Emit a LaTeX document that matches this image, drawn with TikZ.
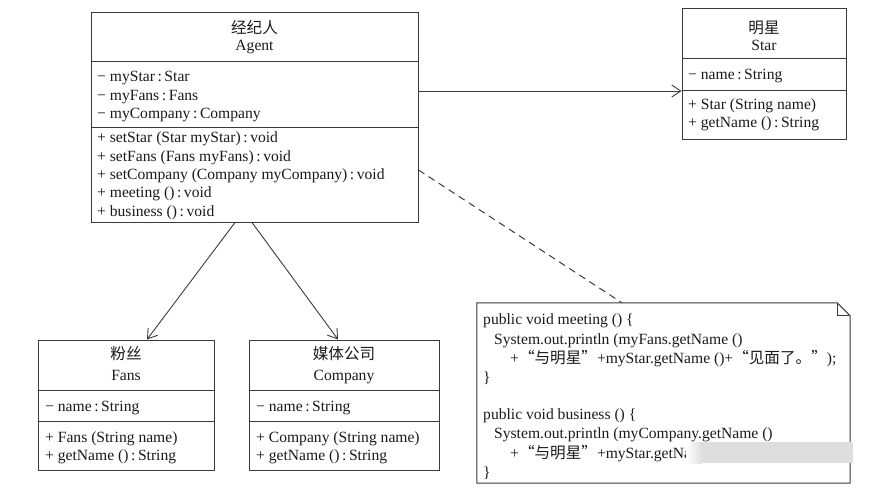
\documentclass[tikz,border=0pt]{standalone}
\usepackage{fontspec}
\setmainfont{Liberation Serif}
\newfontfamily\cjk{Noto Sans CJK SC}
\usetikzlibrary{arrows.meta,calc}
\definecolor{ln}{HTML}{3A3A3A}
\definecolor{tx}{HTML}{1A1A1A}
\tikzset{
  umlbox/.style={draw=ln, line width=1pt, inner sep=0pt, rectangle},
  dl/.style={draw=ln, line width=1pt},
  t/.style={inner sep=0pt, anchor=base west, text=tx, font=\fontsize{15.6}{18}\selectfont},
  tc/.style={t, anchor=base},
  assoc/.style={draw=ln, line width=0.9pt, -{Straight Barb[length=9pt,width=12pt,line width=0.9pt]}},
}
\begin{document}
\begin{tikzpicture}[x=1pt,y=-1pt]
\useasboundingbox (0,0) rectangle (879,488);
% ---------- Agent ----------
\node[umlbox, minimum width=327pt, minimum height=210pt] (agent) at (254.5,117) {};
\draw[dl] (agent.west |- 0,61) -- (agent.east |- 0,61);
\draw[dl] (agent.west |- 0,127) -- (agent.east |- 0,127);
\node[tc] (agcn) at (254.5,33) {\cjk 经纪人};
\node[tc] (agen) at (254.5,50) {Agent};
\node[t] (aga1) at (97,81) {− myStar\,:\,Star};
\node[t] (aga2) at (97,100) {− myFans\,:\,Fans};
\node[t] (aga3) at (97,118) {− myCompany\,:\,Company};
\node[t] (agm1) at (97,142) {+ setStar (Star myStar)\,:\,void};
\node[t] (agm2) at (97,161) {+ setFans (Fans myFans)\,:\,void};
\node[t] (agm3) at (97,179) {+ setCompany (Company myCompany)\,:\,void};
\node[t] (agm4) at (97,197) {+ meeting ()\,:\,void};
\node[t] (agm5) at (97,216) {+ business ()\,:\,void};
% ---------- Star ----------
\node[umlbox, minimum width=164pt, minimum height=131pt] (star) at (764,73.5) {};
\draw[dl] (star.west |- 0,58) -- (star.east |- 0,58);
\draw[dl] (star.west |- 0,90) -- (star.east |- 0,90);
\node[tc] (stcn) at (764,33) {\cjk 明星};
\node[tc] (sten) at (764,50) {Star};
\node[t] (sta1) at (688,79) {− name\,:\,String};
\node[t] (stm1) at (688,109) {+ Star (String name)};
\node[t] (stm2) at (688,127) {+ getName ()\,:\,String};
% ---------- Fans ----------
\node[umlbox, minimum width=176pt, minimum height=130pt] (fans) at (126,405) {};
\draw[dl] (fans.west |- 0,390) -- (fans.east |- 0,390);
\draw[dl] (fans.west |- 0,421) -- (fans.east |- 0,421);
\node[tc] (facn) at (126,359) {\cjk 粉丝};
\node[tc] (faen) at (126,380) {Fans};
\node[t] (faa1) at (45,411) {− name\,:\,String};
\node[t] (fam1) at (45,442) {+ Fans (String name)};
\node[t] (fam2) at (45,460) {+ getName ()\,:\,String};
% ---------- Company ----------
\node[umlbox, minimum width=190pt, minimum height=130pt] (company) at (344,405) {};
\draw[dl] (company.west |- 0,390) -- (company.east |- 0,390);
\draw[dl] (company.west |- 0,421) -- (company.east |- 0,421);
\node[tc] (cocn) at (344,359) {\cjk 媒体公司};
\node[tc] (coen) at (344,380) {Company};
\node[t] (coa1) at (256,411) {− name\,:\,String};
\node[t] (com1) at (256,442) {+ Company (String name)};
\node[t] (com2) at (256,460) {+ getName ()\,:\,String};
% ---------- Note ----------
\node[inner sep=0pt, minimum width=373pt, minimum height=180pt] (note) at (663.5,393) {};
\draw[dl] (note.north west) -- ($(note.north east)+(-13,0)$) -- ($(note.north east)+(0,13)$)
  -- (note.south east) -- (note.south west) -- cycle;
\draw[dl] ($(note.north east)+(-13,0)$) -- ($(note.north east)+(-13,13)$) -- ($(note.north east)+(0,13)$);
\node[t] (n1) at (483,324) {public void meeting () \{};
\node[t] (n2) at (494,344) {System.out.println (myFans.getName ()};
\node[t] (n3) at (510,363) {+{\cjk “与明星”}+myStar.getName ()+{\cjk “见面了。”});};
\node[t] (n4) at (483,382) {\}};
\node[t] (n5) at (483,419) {public void business () \{};
\node[t] (n6) at (494,438) {System.out.println (myCompany.getName ()};
\node[t] (n7) at (510,458) {+{\cjk “与明星”}+myStar.getNa};
\node[t] (n8) at (483,477) {\}};
% blurred area
\shade[left color=white, right color=black!13] (686,442) rectangle (702,463);
\fill[black!13] (702,442) rectangle (853,463);
% ---------- Connectors ----------
\draw[assoc] (agent.east |- 0,91) -- (star.west |- 0,91);
\draw[assoc] (235,0 |- agent.south) -- (147,0 |- fans.north);
\draw[assoc] (252,0 |- agent.south) -- (338,0 |- company.north);
\draw[dl, dash pattern=on 7pt off 5pt] (agent.east |- 0,170) -- (622,0 |- note.north);
\end{tikzpicture}
\end{document}
